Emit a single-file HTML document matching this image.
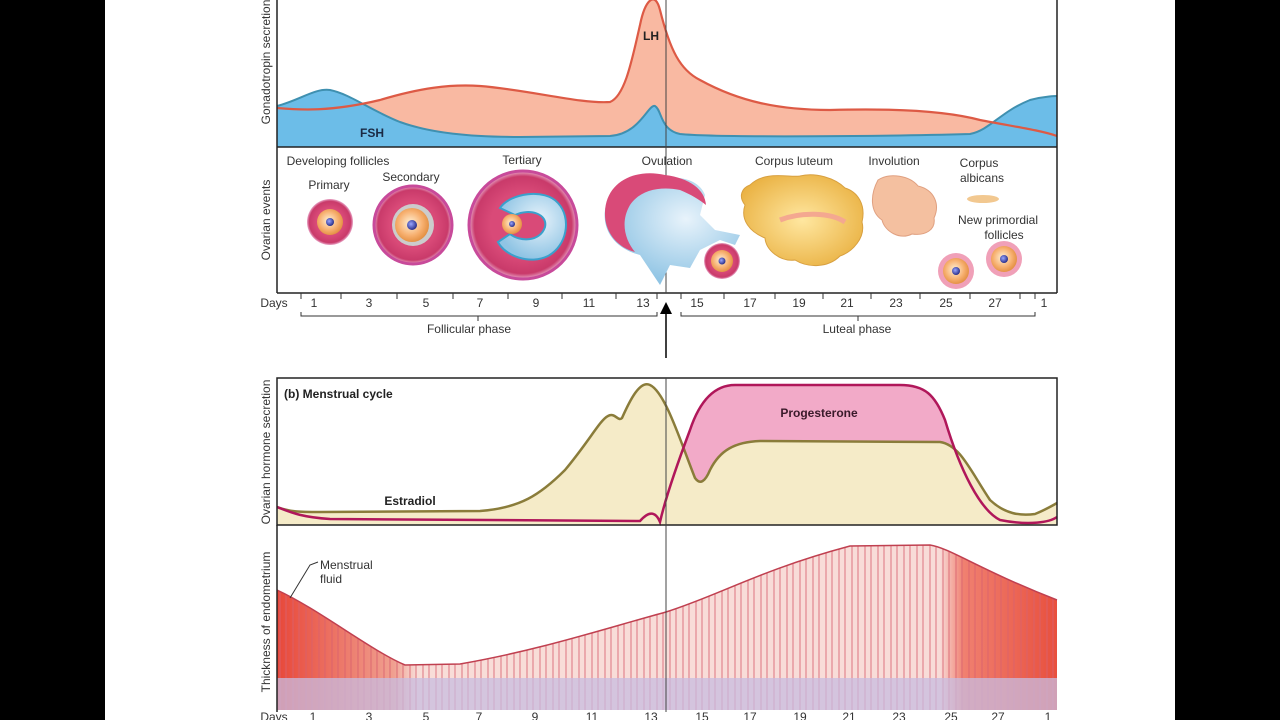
<!DOCTYPE html>
<html><head><meta charset="utf-8"><style>
html,body{margin:0;padding:0;background:#000;}
svg{display:block;font-family:"Liberation Sans",sans-serif;}
</style></head><body>
<svg width="1280" height="720" viewBox="0 0 1280 720" xmlns="http://www.w3.org/2000/svg">
<defs>
<radialGradient id="egg" cx="0.45" cy="0.45" r="0.6"><stop offset="0" stop-color="#fff2d8"/><stop offset="0.6" stop-color="#f7b070"/><stop offset="1" stop-color="#e08a3a"/></radialGradient>
<radialGradient id="gran" cx="0.5" cy="0.5" r="0.5"><stop offset="0.6" stop-color="#d94a78"/><stop offset="0.9" stop-color="#c93a6a"/><stop offset="1" stop-color="#e9a6c8"/></radialGradient>
<radialGradient id="nuc" cx="0.4" cy="0.4" r="0.6"><stop offset="0" stop-color="#9aa6ff"/><stop offset="1" stop-color="#2a2f8a"/></radialGradient>
<radialGradient id="antrum" cx="0.6" cy="0.4" r="0.6"><stop offset="0" stop-color="#e8f3fb"/><stop offset="1" stop-color="#8fc4e4"/></radialGradient>
<radialGradient id="lut" cx="0.5" cy="0.5" r="0.6"><stop offset="0" stop-color="#ffe7a0"/><stop offset="1" stop-color="#e9b040"/></radialGradient>
<linearGradient id="endo" x1="0" x2="1" y1="0" y2="0">
<stop offset="0" stop-color="#e8483a"/><stop offset="0.15" stop-color="#f0a090"/><stop offset="0.18" stop-color="#f8ddd8"/><stop offset="0.85" stop-color="#f8dcd8"/><stop offset="0.88" stop-color="#f08070"/><stop offset="1" stop-color="#e8503e"/></linearGradient>
<pattern id="glands" width="13" height="200" patternUnits="userSpaceOnUse" x="3">
<path d="M4 0 V200 M10 0 V200" stroke="#d8606e" stroke-width="1.2" fill="none"/>
</pattern>
<clipPath id="endoClip"><path d="M277 590 C320 610 370 650 405 665 L460 664 C540 650 600 630 666 612 C720 595 760 570 850 546 L930 545 C950 548 980 570 1057 600 L1057 710 L277 710 Z"/></clipPath>
<marker id="ar" markerWidth="8" markerHeight="8" refX="4" refY="4" orient="auto"><path d="M0 0 L8 4 L0 8 Z" fill="#000"/></marker>
</defs>
<rect x="105" y="0" width="1070" height="720" fill="#fff"/>

<path d="M277 108 C300 110 330 112 380 100 C420 88 450 84 480 86 C530 90 580 104 610 102 C625 96 632 60 640 25 C645 0 655 -10 660 10 C670 50 680 70 700 80 C740 102 780 110 830 110 C900 108 950 112 980 120 C1010 126 1040 130 1057 136 L1057 147 L277 147 Z" fill="#f9b9a2"/>
<path d="M277 106 C300 100 315 88 330 90 C350 94 370 110 400 122 C430 133 470 137 520 137 L610 136 C640 134 648 104 655 106 C662 110 660 130 680 134 C720 138 900 136 970 134 C990 130 1000 112 1030 100 C1045 96 1057 96 1057 96 L1057 147 L277 147 Z" fill="#6cbde8"/>
<path d="M277 106 C300 100 315 88 330 90 C350 94 370 110 400 122 C430 133 470 137 520 137 L610 136 C640 134 648 104 655 106 C662 110 660 130 680 134 C720 138 900 136 970 134 C990 130 1000 112 1030 100 C1045 96 1057 96 1057 96" fill="none" stroke="#3f90b0" stroke-width="2"/>
<path d="M277 108 C300 110 330 112 380 100 C420 88 450 84 480 86 C530 90 580 104 610 102 C625 96 632 60 640 25 C645 0 655 -10 660 10 C670 50 680 70 700 80 C740 102 780 110 830 110 C900 108 950 112 980 120 C1010 126 1040 130 1057 136" fill="none" stroke="#dd5a45" stroke-width="2.2"/>
<text x="651" y="40" font-size="12" font-weight="bold" text-anchor="middle" fill="#222">LH</text>
<text x="372" y="137" font-size="12" font-weight="bold" text-anchor="middle" fill="#1a2a44">FSH</text>

<line x1="277" y1="147" x2="1057" y2="147" stroke="#222" stroke-width="1.5"/>
<line x1="277" y1="0" x2="277" y2="293" stroke="#222" stroke-width="1.5"/>
<line x1="1057" y1="0" x2="1057" y2="293" stroke="#222" stroke-width="1.5"/>
<line x1="277" y1="293" x2="1057" y2="293" stroke="#222" stroke-width="1.5"/>
<line x1="666" y1="0" x2="666" y2="293" stroke="#444" stroke-width="1"/>

<g font-size="12" fill="#333" text-anchor="middle">
<text x="338" y="165">Developing follicles</text>
<text x="329" y="189">Primary</text>
<text x="411" y="181">Secondary</text>
<text x="522" y="164">Tertiary</text>
<text x="667" y="165">Ovulation</text>
<text x="794" y="165">Corpus luteum</text>
<text x="894" y="165">Involution</text>
<text x="979" y="167">Corpus</text>
<text x="982" y="182">albicans</text>
<text x="998" y="224">New primordial</text>
<text x="1004" y="239">follicles</text>
</g>

<circle cx="330" cy="222" r="23" fill="url(#gran)"/><circle cx="330" cy="222" r="13" fill="url(#egg)"/><circle cx="330" cy="222" r="4" fill="url(#nuc)"/>
<circle cx="413" cy="225" r="39" fill="url(#gran)" stroke="#c84a9a" stroke-width="3"/><circle cx="413" cy="225" r="21" fill="#ccc"/><circle cx="412" cy="225" r="17" fill="url(#egg)"/><circle cx="412" cy="225" r="5" fill="url(#nuc)"/>
<circle cx="523" cy="225" r="54" fill="url(#gran)" stroke="#c84a9a" stroke-width="3"/>
<path d="M500 208 C510 193 545 188 558 203 C572 218 567 246 548 256 C530 265 505 256 498 242 L510 234 C520 242 540 242 545 227 C548 214 530 208 515 215 Z" fill="url(#antrum)" stroke="#3aa0cc" stroke-width="2"/>
<circle cx="512" cy="224" r="10" fill="url(#egg)"/><circle cx="512" cy="224" r="3" fill="url(#nuc)"/>
<path d="M665 178 C640 170 610 180 605 210 C602 235 620 250 640 255 L660 285 L670 265 L690 268 L700 250 L720 240 L735 245 L740 235 L715 230 L700 215 L705 195 C700 182 685 176 665 178 Z" fill="url(#antrum)"/>
<path d="M665 175 C635 168 606 182 605 212 C604 232 618 248 635 252 C625 240 620 222 630 205 C640 190 660 186 680 190 C690 194 700 200 706 205 C705 190 690 178 665 175 Z" fill="#d94a78"/>
<circle cx="722" cy="261" r="18" fill="url(#gran)"/><circle cx="722" cy="261" r="11" fill="url(#egg)"/><circle cx="722" cy="261" r="3.5" fill="url(#nuc)"/>
<path d="M750 185 C765 170 790 178 800 176 C815 172 835 178 845 188 C858 192 866 205 862 222 C866 238 852 252 840 256 C828 268 808 268 795 260 C780 262 766 250 765 238 C750 232 740 220 745 205 C738 196 742 188 750 185 Z" fill="url(#lut)" stroke="#d8a040" stroke-width="1"/>
<path d="M780 220 C800 212 830 212 845 222" stroke="#f4a890" stroke-width="5" fill="none"/>
<path d="M878 180 C890 172 910 176 918 186 C935 190 940 205 934 218 C936 230 925 236 912 234 C900 240 885 232 882 220 C870 212 870 195 878 180 Z" fill="#f4c0a0" stroke="#e0a080"/>
<ellipse cx="983" cy="199" rx="16" ry="4" fill="#f2c890"/>
<circle cx="956" cy="271" r="18" fill="#f0a0b8"/><circle cx="956" cy="271" r="13" fill="url(#egg)"/><circle cx="956" cy="271" r="4" fill="url(#nuc)"/>
<circle cx="1004" cy="259" r="18" fill="#f0a0b8"/><circle cx="1004" cy="259" r="13" fill="url(#egg)"/><circle cx="1004" cy="259" r="4" fill="url(#nuc)"/>

<g stroke="#333" stroke-width="1">
<path d="M301 293v6 M341 293v6 M397 293v6 M453 293v6 M508 293v6 M562 293v6 M616 293v6 M657 293v6 M681 293v6 M724 293v6 M775 293v6 M823 293v6 M871 293v6 M920 293v6 M970 293v6 M1020 293v6 M1035 293v6"/>
<path d="M301 312v4 H657 v-4 M478 316v5 M681 312v4 H1035 v-4 M858 316v5" fill="none"/>
</g>
<g font-size="12" fill="#333" text-anchor="middle">
<text x="274" y="307">Days</text>
<text x="314" y="307">1</text><text x="369" y="307">3</text><text x="426" y="307">5</text><text x="480" y="307">7</text><text x="536" y="307">9</text><text x="589" y="307">11</text><text x="643" y="307">13</text><text x="697" y="307">15</text><text x="750" y="307">17</text><text x="799" y="307">19</text><text x="847" y="307">21</text><text x="896" y="307">23</text><text x="946" y="307">25</text><text x="995" y="307">27</text><text x="1044" y="307">1</text>
<text x="469" y="333">Follicular phase</text>
<text x="857" y="333">Luteal phase</text>
</g>
<line x1="666" y1="358" x2="666" y2="308" stroke="#000" stroke-width="1.5" marker-end="url(#ar)"/>

<path d="M277 507 C290 512 300 517 330 519 L640 521 C648 512 655 510 660 522 C665 500 675 470 690 430 C700 400 715 385 735 385 L900 385 C925 385 935 395 945 420 C960 470 980 510 1000 520 C1030 526 1050 522 1057 517 L1057 525 L277 525 Z" fill="#f2aac8"/>
<path d="M277 507 C290 512 300 512 320 512 L480 511 C520 508 540 495 565 470 C590 440 600 420 608 416 C615 412 618 422 622 418 C630 400 640 380 650 385 C665 392 680 440 695 478 C700 485 705 482 710 470 C720 450 735 442 760 441 L940 442 C960 445 970 470 990 500 C1005 514 1020 516 1035 514 C1045 510 1050 507 1057 503 L1057 525 L277 525 Z" fill="#f5ebc8"/>
<path d="M277 507 C290 512 300 512 320 512 L480 511 C520 508 540 495 565 470 C590 440 600 420 608 416 C615 412 618 422 622 418 C630 400 640 380 650 385 C665 392 680 440 695 478 C700 485 705 482 710 470 C720 450 735 442 760 441 L940 442 C960 445 970 470 990 500 C1005 514 1020 516 1035 514 C1045 510 1050 507 1057 503" fill="none" stroke="#8a7c3a" stroke-width="2.5"/>
<path d="M277 507 C290 512 300 517 330 519 L640 521 C648 512 655 510 660 522 C665 500 675 470 690 430 C700 400 715 385 735 385 L900 385 C925 385 935 395 945 420 C960 470 980 510 1000 520 C1030 526 1050 522 1057 517" fill="none" stroke="#b0175a" stroke-width="2.5"/>
<rect x="277" y="378" width="780" height="147" fill="none" stroke="#222" stroke-width="1.5"/>
<text x="284" y="398" font-size="12" font-weight="bold" fill="#222">(b) Menstrual cycle</text>
<text x="819" y="417" font-size="12" font-weight="bold" text-anchor="middle" fill="#3a1a2a">Progesterone</text>
<text x="410" y="505" font-size="12" font-weight="bold" text-anchor="middle" fill="#222">Estradiol</text>

<g clip-path="url(#endoClip)">
<rect x="277" y="520" width="780" height="200" fill="url(#endo)"/>
<rect x="277" y="520" width="780" height="200" fill="url(#glands)" opacity="0.7"/>
<rect x="277" y="678" width="780" height="35" fill="#c8bce0" opacity="0.75"/>
</g>
<path d="M277 590 C320 610 370 650 405 665 L460 664 C540 650 600 630 666 612 C720 595 760 570 850 546 L930 545 C950 548 980 570 1057 600" fill="none" stroke="#c04050" stroke-width="1.5"/>
<line x1="277" y1="525" x2="277" y2="712" stroke="#222" stroke-width="1.5"/>
<line x1="666" y1="378" x2="666" y2="712" stroke="#444" stroke-width="1"/>
<path d="M318 562 L310 565 L290 598" fill="none" stroke="#333" stroke-width="1"/>
<text x="320" y="569" font-size="12" fill="#333">Menstrual</text>
<text x="320" y="583" font-size="12" fill="#333">fluid</text>

<g font-size="12" fill="#333" text-anchor="middle">
<text x="274" y="721">Days</text>
<text x="313" y="721">1</text><text x="369" y="721">3</text><text x="426" y="721">5</text><text x="479" y="721">7</text><text x="535" y="721">9</text><text x="592" y="721">11</text><text x="651" y="721">13</text><text x="702" y="721">15</text><text x="750" y="721">17</text><text x="800" y="721">19</text><text x="849" y="721">21</text><text x="899" y="721">23</text><text x="951" y="721">25</text><text x="998" y="721">27</text><text x="1048" y="721">1</text>
</g>

<g font-size="12" fill="#333" text-anchor="middle">
<text transform="translate(270,62) rotate(-90)">Gonadotropin secretion</text>
<text transform="translate(270,220) rotate(-90)">Ovarian events</text>
<text transform="translate(270,452) rotate(-90)">Ovarian hormone secretion</text>
<text transform="translate(270,622) rotate(-90)">Thickness of endometrium</text>
</g>
</svg>
</body></html>
